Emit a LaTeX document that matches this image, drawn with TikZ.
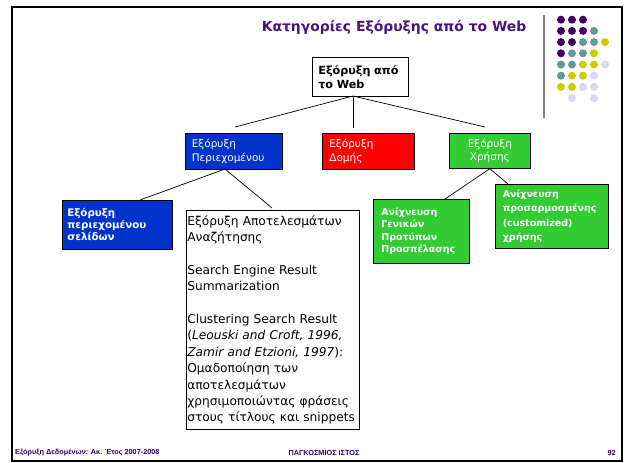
\documentclass[tikz,border=0pt]{standalone}
\usepackage{fontspec}
\setmainfont{DejaVu Sans}
\newfontfamily\footfont{Liberation Sans}
\definecolor{ttl}{RGB}{74,20,128}
\definecolor{dP}{RGB}{64,0,100}
\definecolor{dT}{RGB}{102,153,153}
\definecolor{dY}{RGB}{204,204,0}
\definecolor{dL}{RGB}{217,217,238}
\definecolor{bblue}{RGB}{0,51,204}
\definecolor{bred}{RGB}{255,0,0}
\definecolor{bgreen}{RGB}{51,204,51}
\definecolor{foot}{RGB}{51,0,102}
\tikzset{
  boxbase/.style={draw=black, line width=0.7pt, rectangle, anchor=north west, inner ysep=0pt},
  conn/.style={draw=black, line width=0.7pt},
  dot/.style={radius=4},
  foottext/.style={font=\footfont\bfseries\fontsize{7.3}{8}\selectfont, text=foot, inner sep=0pt}
}
\begin{document}
\begin{tikzpicture}[x=1pt,y=-1pt]
\useasboundingbox (0,0) rectangle (625,463);
\fill[white] (0,0) rectangle (625,463);
\draw[line width=2pt] (12,7) rectangle (622,461);

% title
\node[font=\bfseries\fontsize{13.9}{16}\selectfont, text=ttl, inner sep=0pt] (title) at (394,27) {Κατηγορίες Εξόρυξης από το Web};

% decoration
\draw[line width=2pt, gray] (544,15) -- (544,118);
\foreach \c/\r/\col in {1/1/dP,2/1/dP,3/1/dP,
  1/2/dP,2/2/dP,3/2/dP,4/2/dT,
  1/3/dP,2/3/dP,3/3/dT,4/3/dT,5/3/dY,
  1/4/dP,2/4/dT,3/4/dT,4/4/dY,
  1/5/dT,2/5/dT,3/5/dY,4/5/dY,5/5/dL,
  1/6/dT,2/6/dY,3/6/dY,4/6/dL,
  1/7/dY,2/7/dY,3/7/dL,4/7/dL,
  2/8/dL,4/8/dL}
  \fill[\col] ({550+11*\c},{8.5+11.2*\r}) circle[dot];

% nodes
\node[boxbase, fill=white, inner xsep=6pt, minimum width=96pt, minimum height=39pt, text width=84pt, align=left,
  font=\bfseries\fontsize{11.2}{14.3}\selectfont] (root) at (312,57) {Εξόρυξη από\\το Web};

\node[boxbase, fill=bblue, text=white, inner xsep=6.5pt, minimum width=97pt, minimum height=36pt, text width=84pt, align=left,
  font=\fontsize{10.5}{13.3}\selectfont] (content) at (185,133) {Εξόρυξη\\Περιεχομένου};

\node[boxbase, fill=bred, text=white, inner xsep=7pt, minimum width=92pt, minimum height=36pt, text width=78pt, align=left,
  font=\fontsize{10.5}{13.3}\selectfont] (structure) at (322,133) {Εξόρυξη\\Δομής};

\node[boxbase, fill=bgreen, text=white, inner xsep=4pt, minimum width=81pt, minimum height=35pt, text width=73pt, align=center,
  font=\fontsize{10.5}{13.3}\selectfont] (usage) at (449,133) {Εξόρυξη\\Χρήσης};

\node[boxbase, fill=bblue, text=white, inner xsep=5pt, minimum width=110pt, minimum height=49pt, text width=100pt, align=left,
  font=\bfseries\fontsize{10.3}{11.9}\selectfont] (pages) at (62,200) {Εξόρυξη\\περιεχομένου\\σελίδων};

\node[boxbase, fill=white, inner xsep=1pt, minimum width=173pt, minimum height=219pt, text width=171pt, align=left,
  font=\fontsize{12.2}{16.4}\selectfont] (results) at (186,210)
  {Εξόρυξη Αποτελεσμάτων\\Αναζήτησης\\[16.4pt]Search Engine Result\\Summarization\\[16.4pt]Clustering Search Result\\(\textit{Leouski and Croft, 1996,}\\\textit{Zamir and Etzioni, 1997}):\\Ομαδοποίηση των\\αποτελεσμάτων\\χρησιμοποιώντας φράσεις\\στους τίτλους και snippets};

\node[boxbase, fill=bgreen, text=white, inner xsep=8pt, minimum width=96pt, minimum height=64pt, text width=80pt, align=left,
  font=\bfseries\fontsize{9.5}{12.4}\selectfont] (patterns) at (373,199) {Ανίχνευση\\Γενικών\\Προτύπων\\Προσπέλασης};

\node[boxbase, fill=bgreen, text=white, inner xsep=7.5pt, minimum width=113pt, minimum height=64pt, text width=98pt, align=left,
  font=\bfseries\fontsize{9.5}{14.4}\selectfont] (custom) at (495,184) {Ανίχνευση\\προσαρμοσμένης\\(customized)\\χρήσης};

% connector points
\coordinate (rj) at (353,96);
\coordinate (tl) at (235,127);
\coordinate (tm) at (353,128);
\coordinate (tr) at (485,127);
\coordinate (cj) at (225,169);
\coordinate (pe) at (140,200);
\coordinate (re) at (272,208);
\coordinate (pa) at (445,199);
\coordinate (cu) at (508,184);

\draw[conn] (rj) -- (tl);
\draw[conn] (rj) -- (tm);
\draw[conn] (rj) -- (tr);
\draw[conn] (cj) -- (pe);
\draw[conn] (cj) -- (re);
\draw[conn] (usage.south) -- (pa);
\draw[conn] (usage.south) -- (cu);

% footer
\node[foottext, anchor=west] (f1) at (15,453) {Εξόρυξη Δεδομένων: Ακ. Έτος 2007-2008};
\node[foottext] (f2) at (324,453) {ΠΑΓΚΟΣΜΙΟΣ ΙΣΤΟΣ};
\node[foottext, anchor=east] (f3) at (616,453) {92};
\end{tikzpicture}
\end{document}
